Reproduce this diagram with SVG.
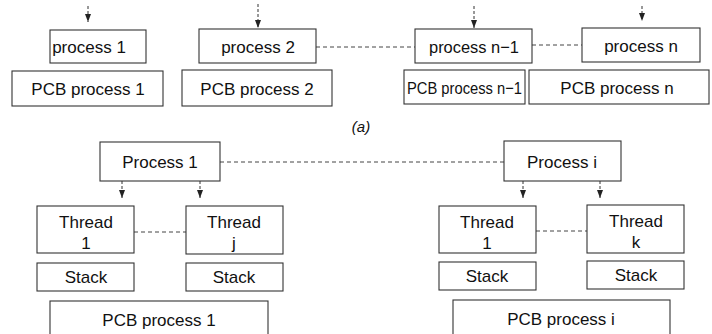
<svg xmlns="http://www.w3.org/2000/svg" width="712" height="334" viewBox="0 0 712 334">
<defs>
<marker id="ah" viewBox="0 0 8 6" refX="8" refY="3" markerWidth="8" markerHeight="6" markerUnits="userSpaceOnUse" orient="auto">
<path d="M0,0 L8,3 L0,6 Z" fill="#222"/>
</marker>
</defs>
<style>
.box{fill:#fff;stroke:#333;stroke-width:1.1}
.t{font-family:"Liberation Sans",Arial,sans-serif;font-size:17px;fill:#111;text-anchor:middle}
.dash{fill:none;stroke:#444;stroke-width:1;stroke-dasharray:4 3}
.arr{fill:none;stroke:#333;stroke-width:1;stroke-dasharray:3 2;marker-end:url(#ah)}
</style>
<rect width="712" height="334" fill="#fff"/>
<g id="connectors">
<line class="arr" x1="88" y1="6" x2="88" y2="22"/>
<line class="arr" x1="258" y1="4" x2="258" y2="28"/>
<line class="arr" x1="474" y1="6" x2="474" y2="28"/>
<line class="arr" x1="642" y1="6" x2="642" y2="21"/>
<line class="dash" x1="316" y1="47" x2="415" y2="47"/>
<line class="dash" x1="532" y1="45" x2="582" y2="45"/>
<line class="dash" x1="220" y1="162" x2="504" y2="162"/>
<line class="arr" x1="122" y1="181" x2="122" y2="198"/>
<line class="arr" x1="200" y1="181" x2="200" y2="198"/>
<line class="arr" x1="523" y1="181" x2="523" y2="198"/>
<line class="arr" x1="600" y1="181" x2="600" y2="198"/>
<line class="dash" x1="134" y1="232" x2="186" y2="232"/>
<line class="dash" x1="536" y1="231" x2="587" y2="231"/>
</g>
<g id="p1"><rect class="box" x="50" y="30" width="96" height="33"/><text class="t" x="89" y="52.5">process 1</text></g>
<g id="p2"><rect class="box" x="199" y="29" width="117" height="34"/><text class="t" x="258" y="52.5">process 2</text></g>
<g id="pn1"><rect class="box" x="415" y="29" width="117" height="34"/><text class="t" x="474" y="52.5" textLength="90" lengthAdjust="spacingAndGlyphs">process n−1</text></g>
<g id="pn"><rect class="box" x="582" y="28" width="118" height="34"/><text class="t" x="641" y="51.5">process n</text></g>
<g id="pcb1"><rect class="box" x="12" y="71" width="151" height="35"/><text class="t" x="88" y="94.5">PCB process 1</text></g>
<g id="pcb2"><rect class="box" x="182" y="70" width="150" height="36"/><text class="t" x="257" y="94.5">PCB process 2</text></g>
<g id="pcbn1"><rect class="box" x="404" y="70" width="121" height="34"/><text class="t" x="464.5" y="93.5" textLength="115" lengthAdjust="spacingAndGlyphs">PCB process n−1</text></g>
<g id="pcbn"><rect class="box" x="529" y="70" width="180" height="34"/><text class="t" x="617" y="93.5">PCB process n</text></g>
<g id="caption"><text x="361" y="132" style="font-family:'Liberation Sans',Arial,sans-serif;font-size:15px;font-style:italic;fill:#111;text-anchor:middle">(a)</text></g>
<g id="P1"><rect class="box" x="100" y="142" width="120" height="39"/><text class="t" x="160" y="168">Process 1</text></g>
<g id="Pi"><rect class="box" x="504" y="141" width="117" height="40"/><text class="t" x="562" y="168">Process i</text></g>
<g id="T11"><rect class="box" x="37" y="206" width="97" height="47"/><text class="t" x="86" y="227.5">Thread</text><text class="t" x="86" y="249">1</text></g>
<g id="Tj"><rect class="box" x="186" y="206" width="97" height="48"/><text class="t" x="234" y="227.5">Thread</text><text class="t" x="234" y="249">j</text></g>
<g id="S11"><rect class="box" x="37" y="263" width="97" height="28"/><text class="t" x="86" y="283">Stack</text></g>
<g id="Sj"><rect class="box" x="186" y="263" width="97" height="28"/><text class="t" x="234" y="283">Stack</text></g>
<g id="PCBb1"><rect class="box" x="50" y="301" width="218" height="45"/><text class="t" x="159" y="326">PCB process 1</text></g>
<g id="Ti1"><rect class="box" x="439" y="206" width="97" height="47"/><text class="t" x="487" y="227.5">Thread</text><text class="t" x="487" y="249">1</text></g>
<g id="Tk"><rect class="box" x="587" y="205" width="97" height="48"/><text class="t" x="636" y="227">Thread</text><text class="t" x="636" y="248">k</text></g>
<g id="Si1"><rect class="box" x="439" y="262" width="97" height="28"/><text class="t" x="487" y="282">Stack</text></g>
<g id="Sk"><rect class="box" x="587" y="261" width="97" height="28"/><text class="t" x="636" y="281">Stack</text></g>
<g id="PCBbi"><rect class="box" x="453" y="300" width="217" height="46"/><text class="t" x="561" y="325">PCB process i</text></g>
</svg>
